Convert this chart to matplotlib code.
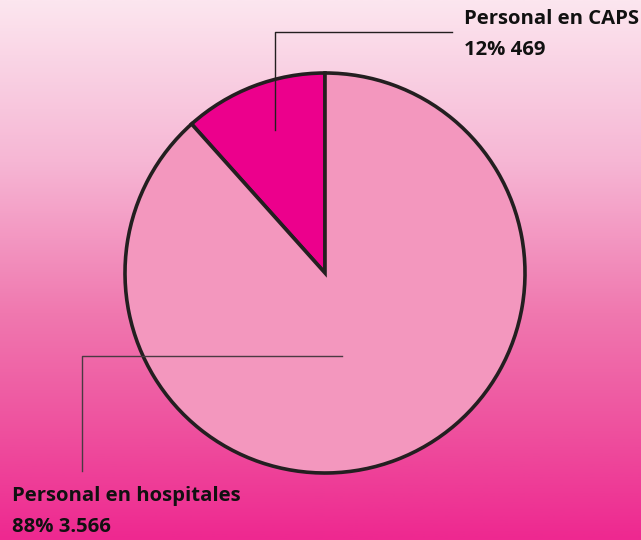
import matplotlib
matplotlib.use("Agg")
import matplotlib.pyplot as plt
import numpy as np
from matplotlib.colors import LinearSegmentedColormap

# Personnel distribution
categories = ["Personal en CAPS", "Personal en hospitales"]
values = [469, 3566]
slice_colors = ["#ec008c", "#f397be"]

W, H = 641, 540
fig = plt.figure(figsize=(W / 100, H / 100), dpi=100)
ax = fig.add_axes([0, 0, 1, 1])
ax.set_xlim(0, W)
ax.set_ylim(0, H)
ax.set_aspect("equal")
ax.axis("off")

# Vertical pink gradient background (top pale, bottom magenta)
bg = LinearSegmentedColormap.from_list(
    "bg",
    [(0.0, "#ee2890"), (0.2, "#ee509e"), (0.42, "#f078af"),
     (0.7, "#f6b6d4"), (1.0, "#fce6ef")],
)
grad = np.linspace(0, 1, 256).reshape(-1, 1)
ax.imshow(grad, cmap=bg, origin="lower", extent=[0, W, 0, H],
          aspect="auto", zorder=0)

# Pie
cx, cy, r = 325, H - 273, 200
ax.pie(values, colors=slice_colors, startangle=90, counterclock=True,
       center=(cx, cy), radius=r, frame=True,
       wedgeprops=dict(edgecolor="#231f20", linewidth=2.6))
ax.set_xlim(0, W)
ax.set_ylim(0, H)
ax.axis("off")

total = sum(values)
pcts = [round(v / total * 100) for v in values]
def fmt(v):
    return f"{v:,}".replace(",", ".")

# Leader lines
ax.plot([275, 275, 452], [H - 130, H - 32, H - 32], color="#231f20", lw=1, zorder=5)
ax.plot([342, 82, 82], [H - 356, H - 356, H - 471], color="#4a3a42", lw=1, zorder=5)

font = dict(family="Open Sans", weight="bold", fontsize=14.6, color="#111111",
            linespacing=1.75, zorder=6)
ax.text(464, H - 9, f"{categories[0]}\n{pcts[0]}% {fmt(values[0])}",
        ha="left", va="top", **font)
ax.text(12, H - 486, f"{categories[1]}\n{pcts[1]}% {fmt(values[1])}",
        ha="left", va="top", **font)

fig.savefig("out.png", dpi=100)
